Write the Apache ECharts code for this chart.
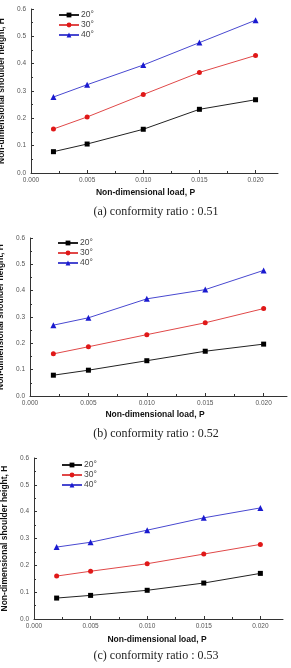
<!DOCTYPE html>
<html>
<head>
<meta charset="utf-8">
<script src="https://cdn.jsdelivr.net/npm/echarts@6/dist/echarts.min.js"></script>
<style>
html,body{margin:0;padding:0;background:#fff;}
#c{width:291px;height:668px;}
</style>
</head>
<body>
<div id="c"></div>
<script>
// Data
const loads = [0.002, 0.005, 0.010, 0.015, 0.020];
const seriesNames = ['20°', '30°', '40°'];
const xTicks = [0, 0.005, 0.010, 0.015, 0.020];
const captions = ['(a) conformity ratio : 0.51', '(b) conformity ratio : 0.52', '(c) conformity ratio : 0.53'];
// panel a
const a20 = [0.078, 0.106, 0.160, 0.233, 0.268];
const a30 = [0.161, 0.205, 0.287, 0.368, 0.430];
const a40 = [0.278, 0.323, 0.395, 0.477, 0.559];
// panel b
const b20 = [0.079, 0.098, 0.134, 0.170, 0.197];
const b30 = [0.160, 0.187, 0.233, 0.278, 0.332];
const b40 = [0.269, 0.297, 0.369, 0.404, 0.477];
// panel c
const c20 = [0.078, 0.088, 0.107, 0.134, 0.170];
const c30 = [0.160, 0.178, 0.206, 0.242, 0.278];
const c40 = [0.268, 0.286, 0.331, 0.377, 0.414];

const panels = [[a20, a30, a40], [b20, b30, b40], [c20, c30, c40]];
const grids = [
  {left: 31, top: 9, width: 247, height: 164},
  {left: 30, top: 238, width: 257, height: 158},
  {left: 34, top: 458, width: 249, height: 161}
];
const legendPos = [{left: 58, top: 10}, {left: 57, top: 238}, {left: 61, top: 460}];
const xNamePad = [[0, 18, 0, 0], [0, 7, 0, 0], [0, 3, 0, 0]];
const xNameGap = [15, 14, 16];
const captionY = [212, 434, 656];
const colors = ['#000000', '#e01818', '#1a1ad0'];
const lineColors = ['#222222', '#e04848', '#4848d0'];
const symbols = ['rect', 'circle', 'triangle'];
const symbolSizes = [5, 5, 6];

const chart = echarts.init(document.getElementById('c'));
const option = {
  animation: false,
  grid: [], xAxis: [], yAxis: [], series: [], legend: [], graphic: []
};
panels.forEach((p, i) => {
  const g = grids[i];
  option.grid.push(Object.assign({outerBoundsMode: 'none', containLabel: false}, g));
  option.xAxis.push({
    type: 'value', gridIndex: i, min: 0, max: 0.022,
    name: 'Non-dimensional load, P', nameLocation: 'middle', nameGap: xNameGap[i],
    nameTextStyle: {fontFamily: 'Arial, Liberation Sans', fontWeight: 'bold', fontSize: 8.5, color: '#111', padding: xNamePad[i]},
    axisLine: {show: true, lineStyle: {color: '#333', width: 1}},
    axisTick: {show: true, inside: true, length: 3, customValues: xTicks, lineStyle: {color: '#333'}},
    minorTick: {show: true, splitNumber: 2, length: 2, lineStyle: {color: '#333'}},
    axisLabel: {customValues: xTicks, formatter: v => v.toFixed(3), fontSize: 6.5, color: '#555', margin: 4, fontFamily: 'Arial, Liberation Sans'},
    splitLine: {show: false}, interval: 0.005
  });
  option.yAxis.push({
    type: 'value', gridIndex: i, min: 0, max: 0.6, interval: 0.1,
    name: 'Non-dimensional shoulder height, H', nameLocation: 'middle', nameGap: 16,
    nameTextStyle: {fontFamily: 'Arial, Liberation Sans', fontWeight: 'bold', fontSize: 8.5, color: '#111'},
    axisLine: {show: true, lineStyle: {color: '#333', width: 1}},
    axisTick: {show: true, inside: true, length: 3, lineStyle: {color: '#333'}},
    minorTick: {show: true, splitNumber: 2, length: 2, lineStyle: {color: '#333'}},
    axisLabel: {formatter: v => v.toFixed(1), fontSize: 6.5, color: '#555', margin: 5, fontFamily: 'Arial, Liberation Sans'},
    splitLine: {show: false}
  });
  p.forEach((vals, k) => {
    option.series.push({
      type: 'line', name: seriesNames[k] + '_' + i, xAxisIndex: i, yAxisIndex: i,
      data: loads.map((x, j) => [x, vals[j]]),
      symbol: symbols[k], symbolSize: symbolSizes[k],
      itemStyle: {color: colors[k]},
      lineStyle: {color: lineColors[k], width: 1},
      label: {show: false}
    });
  });
  option.legend.push({
    orient: 'vertical', left: legendPos[i].left, top: legendPos[i].top, padding: 0,
    itemWidth: 20, itemHeight: 6, itemGap: 0,
    data: seriesNames.map(n => n + '_' + i),
    formatter: n => n.split('_')[0],
    textStyle: {fontSize: 8.5, lineHeight: 10, color: '#444', fontFamily: 'Arial, Liberation Sans', padding: [0, 0, 0, -3]}
  });
  option.graphic.push({
    type: 'text', x: 156, y: captionY[i],
    style: {text: captions[i], align: 'center', verticalAlign: 'middle',
      font: '12px "Liberation Serif", "Times New Roman", serif', fill: '#222'}
  });
});
chart.setOption(option);
</script>
</body>
</html>
